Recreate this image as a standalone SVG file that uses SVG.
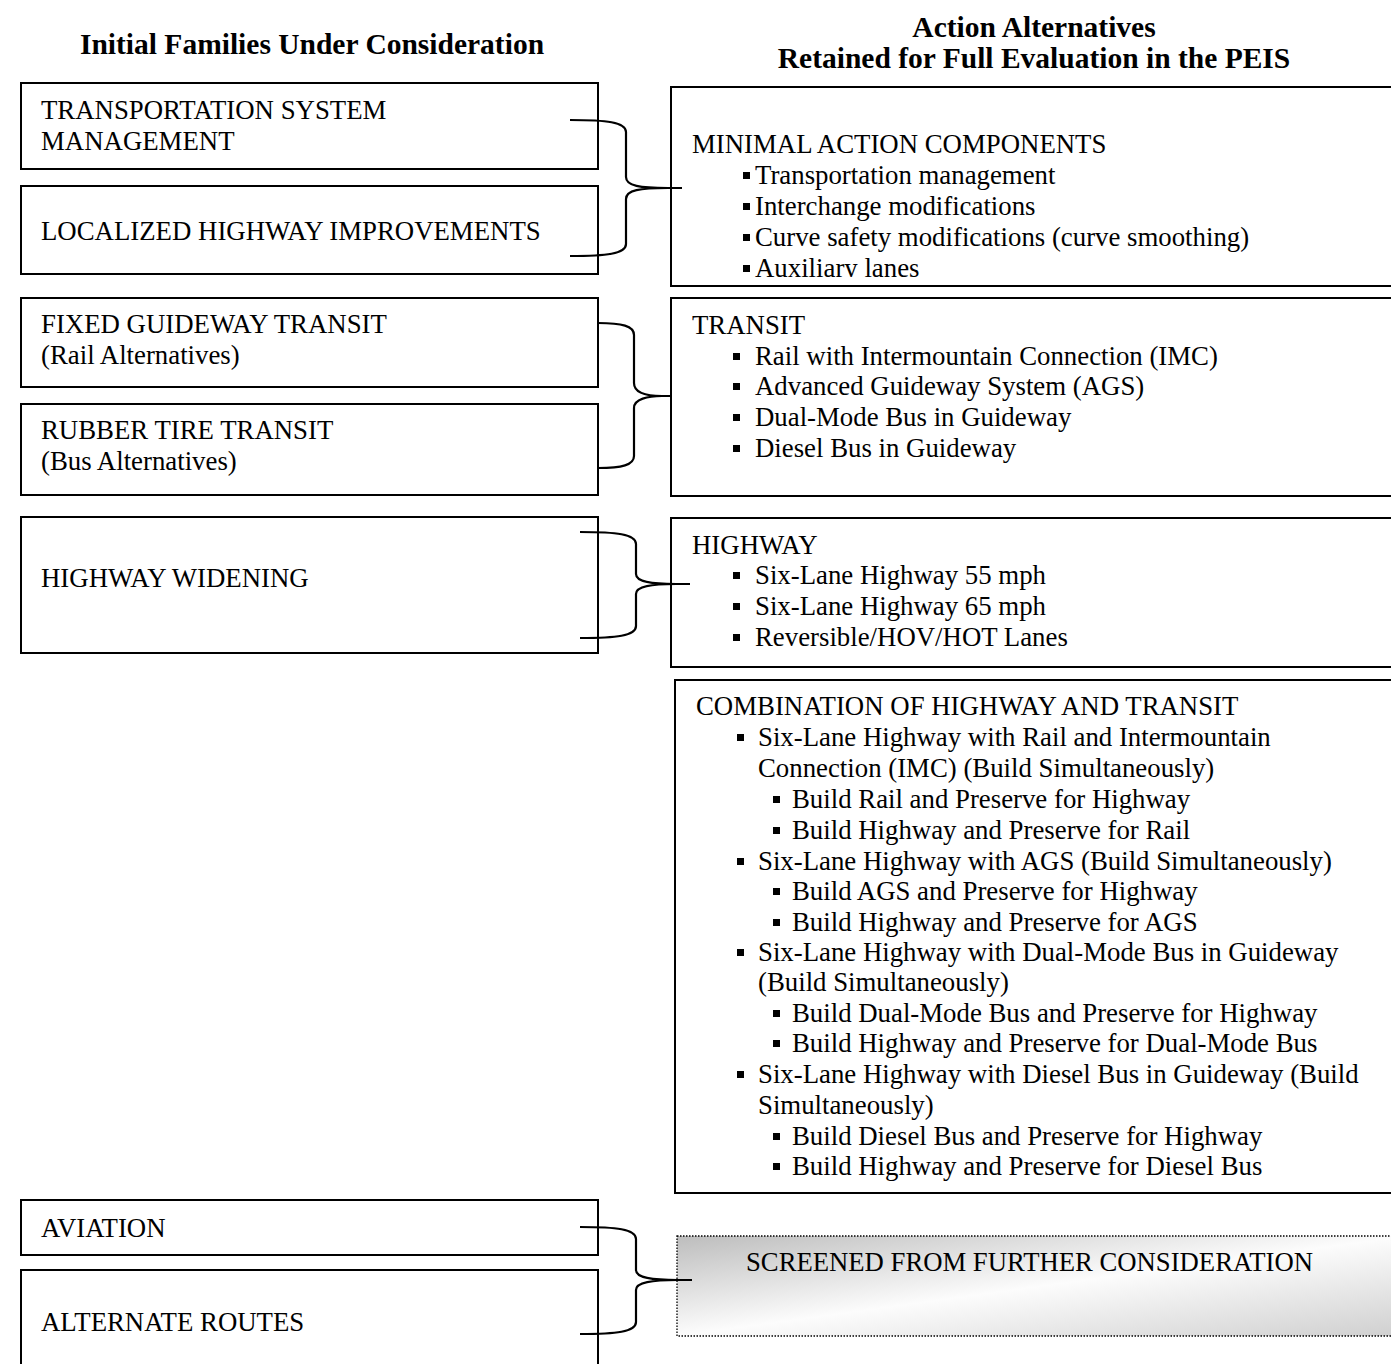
<svg xmlns="http://www.w3.org/2000/svg" width="1391" height="1364" viewBox="0 0 1391 1364">
<style>
text{font-family:"Liberation Serif","Times New Roman",serif;font-size:26.8px;fill:#000}
.h{font-weight:bold;font-size:29.5px;text-anchor:middle}
.box{fill:#fff;stroke:#000;stroke-width:2}
.br{fill:none;stroke:#000;stroke-width:2.2}
.b{fill:#000}
</style>
<defs>
<linearGradient id="g" x1="0" y1="0" x2="1" y2="1">
<stop offset="0" stop-color="#bdbdbd"/>
<stop offset="0.5" stop-color="#fcfcfc"/>
<stop offset="1" stop-color="#cfcfcf"/>
</linearGradient>
<clipPath id="cm"><rect x="660" y="80" width="740" height="197"/></clipPath>
</defs>
<rect width="1391" height="1364" fill="#fff"/>
<g id="headings">
<text class="h" x="312" y="54">Initial Families Under Consideration</text>
<text class="h" x="1034" y="37">Action Alternatives</text>
<text class="h" x="1034" y="68">Retained for Full Evaluation in the PEIS</text>
</g>
<g id="tsm"><rect class="box" x="21" y="83" width="577" height="86"/>
<text x="41" y="119">TRANSPORTATION SYSTEM</text><text x="41" y="150">MANAGEMENT</text></g>
<g id="lhi"><rect class="box" x="21" y="186" width="577" height="88"/>
<text x="41" y="240">LOCALIZED HIGHWAY IMPROVEMENTS</text></g>
<g id="fgt"><rect class="box" x="21" y="298" width="577" height="89"/>
<text x="41" y="333">FIXED GUIDEWAY TRANSIT</text><text x="41" y="364">(Rail Alternatives)</text></g>
<g id="rtt"><rect class="box" x="21" y="404" width="577" height="91"/>
<text x="41" y="439">RUBBER TIRE TRANSIT</text><text x="41" y="470">(Bus Alternatives)</text></g>
<g id="hw"><rect class="box" x="21" y="517" width="577" height="136"/>
<text x="41" y="587">HIGHWAY WIDENING</text></g>
<g id="aviation"><rect class="box" x="21" y="1200" width="577" height="55"/>
<text x="41" y="1237">AVIATION</text></g>
<g id="altroutes"><rect class="box" x="21" y="1270" width="577" height="110"/>
<text x="41" y="1331">ALTERNATE ROUTES</text></g>

<g id="minimal"><rect class="box" x="671" y="87" width="740" height="199"/>
<g clip-path="url(#cm)">
<text x="692" y="153">MINIMAL ACTION COMPONENTS</text>
<rect class="b" x="743" y="172" width="7" height="7"/><text x="755" y="184">Transportation management</text>
<rect class="b" x="743" y="203" width="7" height="7"/><text x="755" y="215">Interchange modifications</text>
<rect class="b" x="743" y="234" width="7" height="7"/><text x="755" y="246">Curve safety modifications (curve smoothing)</text>
<rect class="b" x="743" y="265" width="7" height="7"/><text x="755" y="277">Auxiliary lanes</text>
</g></g>
<g id="transit"><rect class="box" x="671" y="298" width="740" height="198"/>
<text x="692" y="334">TRANSIT</text>
<rect class="b" x="733" y="353" width="7" height="7"/><text x="755" y="365">Rail with Intermountain Connection (IMC)</text>
<rect class="b" x="733" y="383" width="7" height="7"/><text x="755" y="395">Advanced Guideway System (AGS)</text>
<rect class="b" x="733" y="414" width="7" height="7"/><text x="755" y="426">Dual-Mode Bus in Guideway</text>
<rect class="b" x="733" y="445" width="7" height="7"/><text x="755" y="457">Diesel Bus in Guideway</text>
</g>
<g id="highway"><rect class="box" x="671" y="518" width="740" height="149"/>
<text x="692" y="554">HIGHWAY</text>
<rect class="b" x="733" y="572" width="7" height="7"/><text x="755" y="584">Six-Lane Highway 55 mph</text>
<rect class="b" x="733" y="603" width="7" height="7"/><text x="755" y="615">Six-Lane Highway 65 mph</text>
<rect class="b" x="733" y="634" width="7" height="7"/><text x="755" y="646">Reversible/HOV/HOT Lanes</text>
</g>
<g id="combination"><rect class="box" x="675" y="680" width="740" height="513"/>
<text x="696" y="715">COMBINATION OF HIGHWAY AND TRANSIT</text>
<rect class="b" x="737" y="734" width="7" height="7"/><text x="758" y="746">Six-Lane Highway with Rail and Intermountain</text>
<text x="758" y="777">Connection (IMC) (Build Simultaneously)</text>
<rect class="b" x="773" y="796" width="7" height="7"/><text x="792" y="808">Build Rail and Preserve for Highway</text>
<rect class="b" x="773" y="827" width="7" height="7"/><text x="792" y="839">Build Highway and Preserve for Rail</text>
<rect class="b" x="737" y="858" width="7" height="7"/><text x="758" y="870">Six-Lane Highway with AGS (Build Simultaneously)</text>
<rect class="b" x="773" y="888" width="7" height="7"/><text x="792" y="900">Build AGS and Preserve for Highway</text>
<rect class="b" x="773" y="919" width="7" height="7"/><text x="792" y="931">Build Highway and Preserve for AGS</text>
<rect class="b" x="737" y="949" width="7" height="7"/><text x="758" y="961">Six-Lane Highway with Dual-Mode Bus in Guideway</text>
<text x="758" y="991">(Build Simultaneously)</text>
<rect class="b" x="773" y="1010" width="7" height="7"/><text x="792" y="1022">Build Dual-Mode Bus and Preserve for Highway</text>
<rect class="b" x="773" y="1040" width="7" height="7"/><text x="792" y="1052">Build Highway and Preserve for Dual-Mode Bus</text>
<rect class="b" x="737" y="1071" width="7" height="7"/><text x="758" y="1083">Six-Lane Highway with Diesel Bus in Guideway (Build</text>
<text x="758" y="1114">Simultaneously)</text>
<rect class="b" x="773" y="1133" width="7" height="7"/><text x="792" y="1145">Build Diesel Bus and Preserve for Highway</text>
<rect class="b" x="773" y="1163" width="7" height="7"/><text x="792" y="1175">Build Highway and Preserve for Diesel Bus</text>
</g>
<g id="screened"><rect x="677" y="1236" width="730" height="100" fill="url(#g)" stroke="#000" stroke-width="1.3" stroke-dasharray="1.5,1.5"/>
<text x="746" y="1271" textLength="567" lengthAdjust="spacingAndGlyphs">SCREENED FROM FURTHER CONSIDERATION</text>
</g>

<g id="connectors">
<path class="br" d="M570,120 C606,120 626,122 626,132 L626,177 C626,186 640,188 668,188 L682,188 M668,188 C640,188 626,190 626,199 L626,244 C626,254 606,256 570,256"/>
<path class="br" d="M598,323 C622,323 634,326 634,335 L634,383 C634,393 648,396 662,396 L672,396 M662,396 C648,396 634,399 634,408 L634,456 C634,465 622,468 598,468"/>
<path class="br" d="M580,532 C616,532 636,534 636,544 L636,574 C636,582 652,584 676,584 L690,584 M676,584 C652,584 636,586 636,594 L636,626 C636,636 616,638 580,638"/>
<path class="br" d="M580,1227 C616,1227 636,1229 636,1239 L636,1270 C636,1278 652,1280 678,1280 L692,1280 M678,1280 C652,1280 636,1282 636,1290 L636,1322 C636,1332 616,1334 580,1334"/>
</g>
</svg>
